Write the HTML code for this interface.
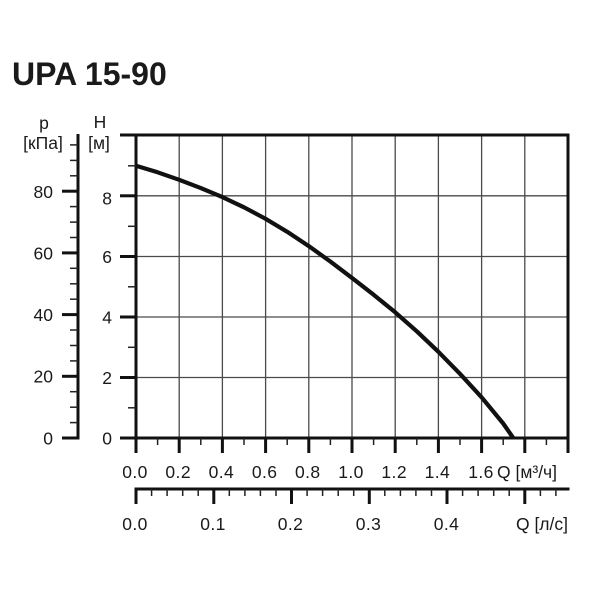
<!DOCTYPE html>
<html>
<head>
<meta charset="utf-8">
<style>
  html,body{margin:0;padding:0;background:#fff;}
  svg{display:block;}
  text{font-family:"Liberation Sans", Arial, sans-serif; fill:#1a1a1a;}
</style>
</head>
<body>
<svg width="600" height="600" viewBox="0 0 600 600" xmlns="http://www.w3.org/2000/svg">
  <rect width="600" height="600" fill="#fff"/>
  <!-- Title -->
  <text x="12" y="85" font-size="32" font-weight="bold">UPA 15-90</text>

  <!-- Grid lines -->
  <g stroke="#4a4a4a" stroke-width="1.3">
    <line x1="179.2" y1="135" x2="179.2" y2="438"/>
    <line x1="222.4" y1="135" x2="222.4" y2="438"/>
    <line x1="265.6" y1="135" x2="265.6" y2="438"/>
    <line x1="308.8" y1="135" x2="308.8" y2="438"/>
    <line x1="352" y1="135" x2="352" y2="438"/>
    <line x1="395.2" y1="135" x2="395.2" y2="438"/>
    <line x1="438.4" y1="135" x2="438.4" y2="438"/>
    <line x1="481.6" y1="135" x2="481.6" y2="438"/>
    <line x1="524.8" y1="135" x2="524.8" y2="438"/>
    <line x1="136" y1="195.8" x2="568" y2="195.8"/>
    <line x1="136" y1="256.5" x2="568" y2="256.5"/>
    <line x1="136" y1="317" x2="568" y2="317"/>
    <line x1="136" y1="377.5" x2="568" y2="377.5"/>
  </g>

  <!-- Frame -->
  <g stroke="#111" stroke-width="3">
    <line x1="120" y1="135" x2="569.5" y2="135"/>
    <line x1="136" y1="134" x2="136" y2="453"/>
    <line x1="568" y1="134" x2="568" y2="453"/>
    <line x1="120" y1="438" x2="569.5" y2="438"/>
  </g>

  <!-- H axis ticks -->
  <g stroke="#111" stroke-width="3">
    <line x1="120" y1="195.8" x2="136" y2="195.8"/>
    <line x1="120" y1="256.5" x2="136" y2="256.5"/>
    <line x1="120" y1="317" x2="136" y2="317"/>
    <line x1="120" y1="377.5" x2="136" y2="377.5"/>
  </g>
  <g stroke="#222" stroke-width="1.5">
    <line x1="128" y1="165.8" x2="136" y2="165.8"/>
    <line x1="128" y1="226.3" x2="136" y2="226.3"/>
    <line x1="128" y1="286.8" x2="136" y2="286.8"/>
    <line x1="128" y1="347.3" x2="136" y2="347.3"/>
    <line x1="128" y1="407.8" x2="136" y2="407.8"/>
  </g>
  <g font-size="17.5" text-anchor="end">
    <text x="112" y="204.5">8</text>
    <text x="112" y="263">6</text>
    <text x="112" y="323.5">4</text>
    <text x="112" y="384">2</text>
    <text x="112" y="444.5">0</text>
  </g>
  <text x="100" y="128" font-size="17.5" text-anchor="middle">H</text>
  <text x="99" y="149" font-size="17.5" text-anchor="middle">[м]</text>

  <!-- Pressure axis -->
  <line x1="78" y1="134" x2="78" y2="439.5" stroke="#111" stroke-width="3"/>
  <g stroke="#111" stroke-width="3">
    <line x1="62" y1="438" x2="78" y2="438"/>
    <line x1="62" y1="376.3" x2="78" y2="376.3"/>
    <line x1="62" y1="314.6" x2="78" y2="314.6"/>
    <line x1="62" y1="252.9" x2="78" y2="252.9"/>
    <line x1="62" y1="191.2" x2="78" y2="191.2"/>
  </g>
  <g stroke="#222" stroke-width="1.5">
    <line x1="70" y1="422.6" x2="78" y2="422.6"/>
    <line x1="70" y1="407.2" x2="78" y2="407.2"/>
    <line x1="70" y1="391.7" x2="78" y2="391.7"/>
    <line x1="70" y1="360.9" x2="78" y2="360.9"/>
    <line x1="70" y1="345.5" x2="78" y2="345.5"/>
    <line x1="70" y1="330" x2="78" y2="330"/>
    <line x1="70" y1="299.2" x2="78" y2="299.2"/>
    <line x1="70" y1="283.8" x2="78" y2="283.8"/>
    <line x1="70" y1="268.3" x2="78" y2="268.3"/>
    <line x1="70" y1="237.5" x2="78" y2="237.5"/>
    <line x1="70" y1="222.1" x2="78" y2="222.1"/>
    <line x1="70" y1="206.6" x2="78" y2="206.6"/>
    <line x1="70" y1="175.8" x2="78" y2="175.8"/>
    <line x1="70" y1="160.4" x2="78" y2="160.4"/>
    <line x1="70" y1="144.9" x2="78" y2="144.9"/>
  </g>
  <g font-size="17.5" text-anchor="end">
    <text x="53" y="198">80</text>
    <text x="53" y="259.5">60</text>
    <text x="53" y="321">40</text>
    <text x="53" y="382.5">20</text>
    <text x="53" y="444.5">0</text>
  </g>
  <text x="44" y="129" font-size="17.5" text-anchor="middle">p</text>
  <text x="43" y="149" font-size="17.5" text-anchor="middle">[кПа]</text>

  <!-- Bottom m3/h ticks -->
  <g stroke="#111" stroke-width="3">
    <line x1="136" y1="438" x2="136" y2="453"/>
    <line x1="179.2" y1="438" x2="179.2" y2="453"/>
    <line x1="222.4" y1="438" x2="222.4" y2="453"/>
    <line x1="265.6" y1="438" x2="265.6" y2="453"/>
    <line x1="308.8" y1="438" x2="308.8" y2="453"/>
    <line x1="352" y1="438" x2="352" y2="453"/>
    <line x1="395.2" y1="438" x2="395.2" y2="453"/>
    <line x1="438.4" y1="438" x2="438.4" y2="453"/>
    <line x1="481.6" y1="438" x2="481.6" y2="453"/>
    <line x1="524.8" y1="438" x2="524.8" y2="453"/>
  </g>
  <g stroke="#222" stroke-width="1.5">
    <line x1="157.6" y1="438" x2="157.6" y2="445"/>
    <line x1="200.8" y1="438" x2="200.8" y2="445"/>
    <line x1="244" y1="438" x2="244" y2="445"/>
    <line x1="287.2" y1="438" x2="287.2" y2="445"/>
    <line x1="330.4" y1="438" x2="330.4" y2="445"/>
    <line x1="373.6" y1="438" x2="373.6" y2="445"/>
    <line x1="416.8" y1="438" x2="416.8" y2="445"/>
    <line x1="460" y1="438" x2="460" y2="445"/>
    <line x1="503.2" y1="438" x2="503.2" y2="445"/>
    <line x1="546.4" y1="438" x2="546.4" y2="445"/>
  </g>
  <g font-size="17.5" text-anchor="middle" letter-spacing="0.4">
    <text x="135" y="478">0.0</text>
    <text x="178.2" y="478">0.2</text>
    <text x="221.4" y="478">0.4</text>
    <text x="264.6" y="478">0.6</text>
    <text x="307.8" y="478">0.8</text>
    <text x="351" y="478">1.0</text>
    <text x="394.2" y="478">1.2</text>
    <text x="437.4" y="478">1.4</text>
    <text x="481" y="478">1.6</text>
  </g>
  <text x="497" y="478" font-size="17.5">Q [м³/ч]</text>

  <!-- Second axis l/s -->
  <line x1="134.5" y1="489" x2="569.5" y2="489" stroke="#111" stroke-width="3"/>
  <g stroke="#111" stroke-width="3">
    <line x1="136" y1="489" x2="136" y2="504"/>
    <line x1="213.8" y1="489" x2="213.8" y2="504"/>
    <line x1="291.5" y1="489" x2="291.5" y2="504"/>
    <line x1="369.3" y1="489" x2="369.3" y2="504"/>
    <line x1="447" y1="489" x2="447" y2="504"/>
    <line x1="524.8" y1="489" x2="524.8" y2="504"/>
  </g>
  <g stroke="#222" stroke-width="1.5">
    <line x1="151.6" y1="489" x2="151.6" y2="496"/>
    <line x1="167.1" y1="489" x2="167.1" y2="496"/>
    <line x1="182.7" y1="489" x2="182.7" y2="496"/>
    <line x1="198.2" y1="489" x2="198.2" y2="496"/>
    <line x1="229.3" y1="489" x2="229.3" y2="496"/>
    <line x1="244.9" y1="489" x2="244.9" y2="496"/>
    <line x1="260.4" y1="489" x2="260.4" y2="496"/>
    <line x1="276" y1="489" x2="276" y2="496"/>
    <line x1="307.1" y1="489" x2="307.1" y2="496"/>
    <line x1="322.6" y1="489" x2="322.6" y2="496"/>
    <line x1="338.2" y1="489" x2="338.2" y2="496"/>
    <line x1="353.7" y1="489" x2="353.7" y2="496"/>
    <line x1="384.8" y1="489" x2="384.8" y2="496"/>
    <line x1="400.4" y1="489" x2="400.4" y2="496"/>
    <line x1="415.9" y1="489" x2="415.9" y2="496"/>
    <line x1="431.5" y1="489" x2="431.5" y2="496"/>
    <line x1="462.6" y1="489" x2="462.6" y2="496"/>
    <line x1="478.1" y1="489" x2="478.1" y2="496"/>
    <line x1="493.7" y1="489" x2="493.7" y2="496"/>
    <line x1="509.2" y1="489" x2="509.2" y2="496"/>
    <line x1="540.4" y1="489" x2="540.4" y2="496"/>
    <line x1="555.9" y1="489" x2="555.9" y2="496"/>
  </g>
  <g font-size="17.5" text-anchor="middle" letter-spacing="0.4">
    <text x="135" y="530">0.0</text>
    <text x="213" y="530">0.1</text>
    <text x="290.5" y="530">0.2</text>
    <text x="368.5" y="530">0.3</text>
    <text x="446.5" y="530">0.4</text>
  </g>
  <text x="568" y="530" font-size="17.5" text-anchor="end">Q [л/с]</text>

  <!-- Curve -->
  <polyline fill="none" stroke="#111" stroke-width="4.2" stroke-linejoin="round" stroke-linecap="butt"
    points="136,165.8 157.6,172.3 179.2,179.8 200.8,188.1 222.4,197.1 244,207.3 265.6,218.8 287.2,231.8 308.8,246.1 330.4,261.6 352,277.9 373.6,294.7 395.2,312.3 416.8,331.3 438.4,351.8 460,373.8 481.6,397.3 503.2,423.5 513.3,438"/>
</svg>
</body>
</html>
